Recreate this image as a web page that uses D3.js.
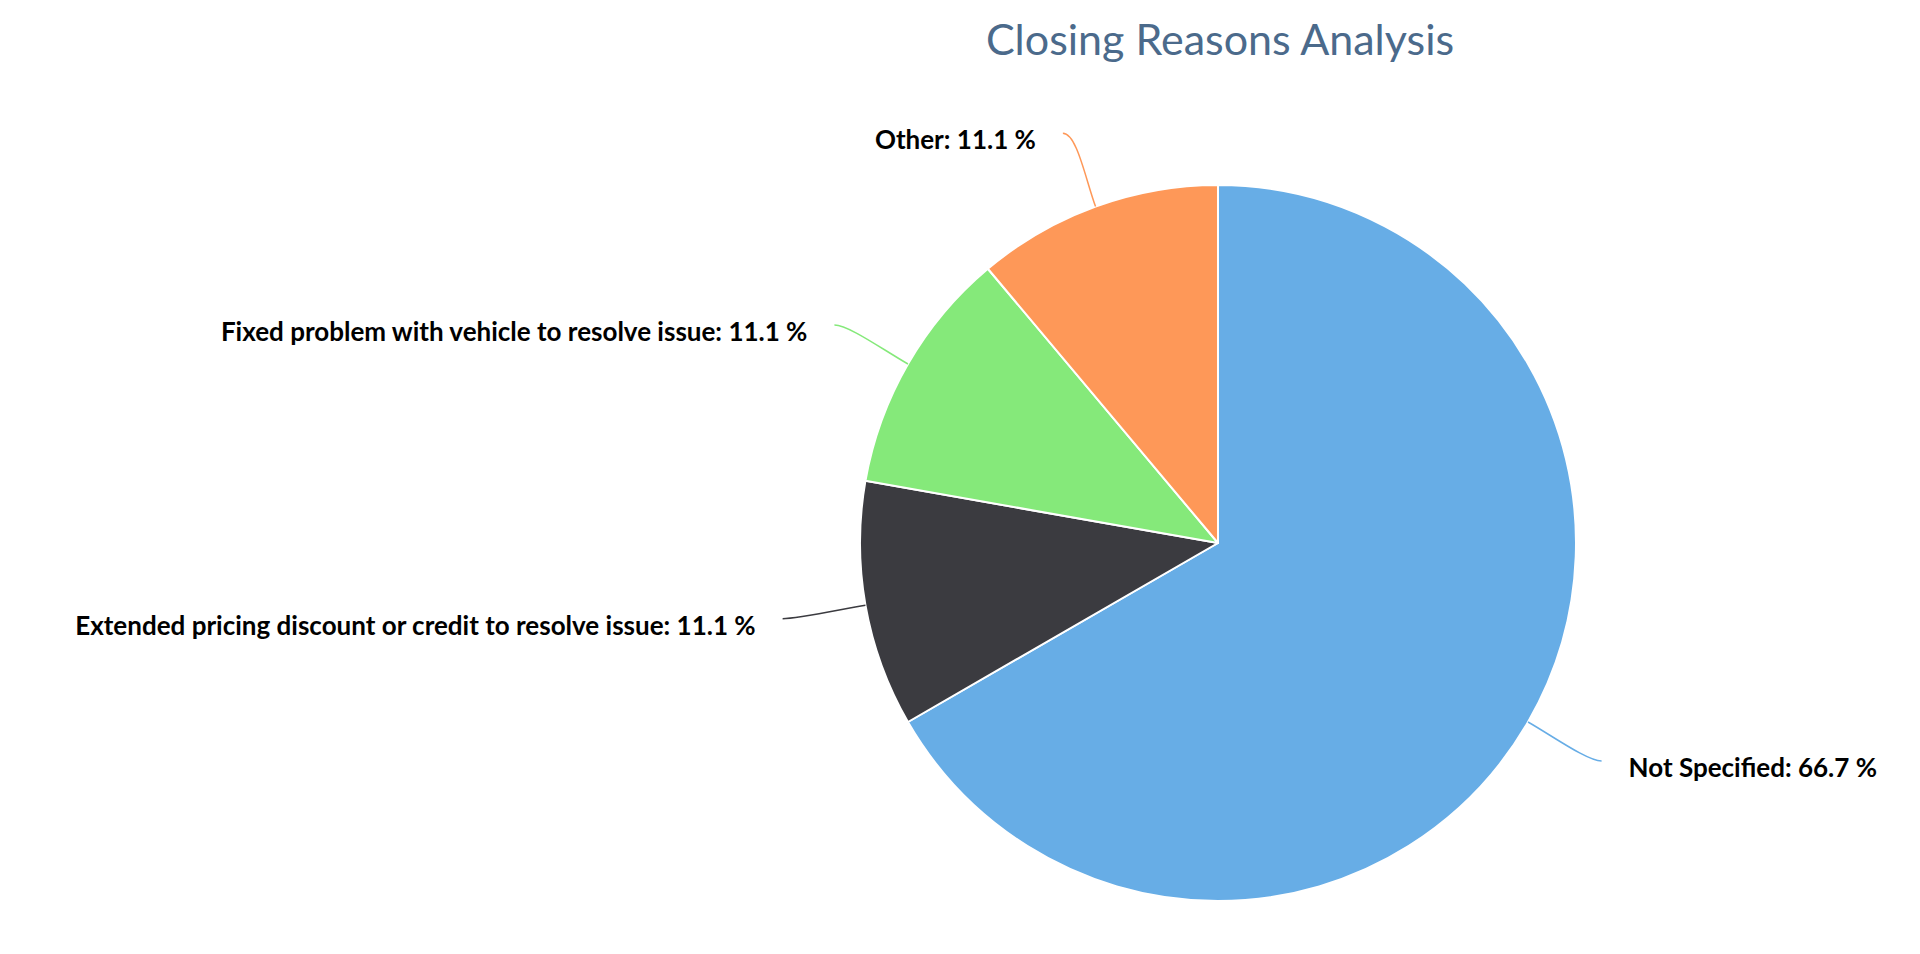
<!DOCTYPE html>
<html lang="en">
<head>
	<meta charset="UTF-8">
	<title>Closing Reasons Analysis</title>
	<script src="https://cdn.jsdelivr.net/npm/d3@7"></script>
	<style>
		html, body {
			margin: 0;
			padding: 0;
			background: #ffffff;
		}
		svg text {
			font-family: Lato, "Open Sans", sans-serif;
		}
	</style>
</head>
<body>
	<div id="vis"></div>

	<script>
		var width = 1920;
		var height = 954;

		// data
		var categories = [
			"Not Specified",
			"Extended pricing discount or credit to resolve issue",
			"Fixed problem with vehicle to resolve issue",
			"Other"
		];
		var counts = [6, 1, 1, 1];
		var colors = ["#67ade6", "#3b3b40", "#85e97a", "#fe9858"];

		var cx = 1218;
		var cy = 543;
		var radius = 358;
		var labelRadius = 436;

		var svg = d3.select("#vis").append("svg")
				.attr("width", width)
				.attr("height", height);

		// title
		svg.append("text")
			.attr("x", 1220)
			.attr("y", 55)
			.attr("text-anchor", "middle")
			.attr("font-size", 43)
			.attr("fill", "#4b6a8b")
			.text("Closing Reasons Analysis");

		var total = d3.sum(counts);
		var rows = categories.map(function(c, i) {
			return { name: c, value: counts[i], color: colors[i] };
		});

		var pie = d3.pie()
				.sort(null)
				.value(function(d) { return d.value; });

		var arc = d3.arc()
				.innerRadius(0)
				.outerRadius(radius);

		var arcs = pie(rows);

		var g = svg.append("g")
				.attr("transform", "translate(" + cx + "," + cy + ")");

		g.selectAll("path.slice")
			.data(arcs)
			.enter().append("path")
				.attr("class", "slice")
				.attr("d", arc)
				.attr("fill", function(d) { return d.data.color; })
				.attr("stroke", "#ffffff")
				.attr("stroke-width", 2)
				.attr("stroke-linejoin", "round");

		// point at radius r along the middle of a slice
		function polar(d, r) {
			var a = (d.startAngle + d.endAngle) / 2;
			return [r * Math.sin(a), -r * Math.cos(a)];
		}

		arcs.forEach(function(d) {
			var edge = polar(d, radius);
			var bend = polar(d, radius + 30);
			var anchor = polar(d, labelRadius);
			var right = anchor[0] > 0;
			anchor[0] += right ? 6 : -6;

			var path = d3.path();
			path.moveTo(anchor[0], anchor[1]);
			path.bezierCurveTo(anchor[0] + (right ? -14 : 14), anchor[1],
				bend[0], bend[1], edge[0], edge[1]);

			g.append("path")
				.attr("d", path.toString())
				.attr("fill", "none")
				.attr("stroke", d.data.color)
				.attr("stroke-width", 1.5);

			var pct = (d.data.value / total * 100).toFixed(1);
			g.append("text")
				.attr("x", anchor[0] + (right ? 27 : -27))
				.attr("y", anchor[1] + 16)
				.attr("text-anchor", right ? "start" : "end")
				.attr("font-size", 26)
				.attr("font-weight", "bold")
				.attr("fill", "#000000")
				.text(d.data.name + ": " + pct + " %");
		});
	</script>
</body>
</html>
